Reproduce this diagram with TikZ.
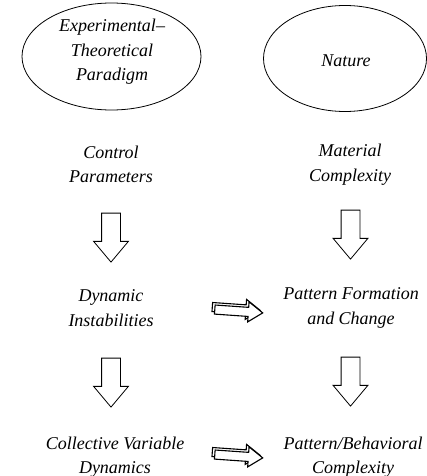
\documentclass[tikz,border=0pt]{standalone}
\usepackage{fontspec}
\setmainfont{Liberation Serif}
\usetikzlibrary{shapes.geometric,shapes.arrows}
\tikzstyle{flowboxes}=[%
	every path/.style = {%
		black,
		line width=0.8pt
	},%
	every node/.style = {%
		font=\fontsize{18}{24.5}\selectfont\itshape,
		align=center
	},%
	sourceOval/.style={%
		draw,
		ellipse,
		inner sep=0pt
	},%
	downArrow/.style={%
		draw,
		fill=white,
		single arrow,
		rotate=-90,
		minimum height=49pt,
		inner xsep=0pt,
		inner ysep=9pt,
		single arrow head extend=8pt,
		single arrow tip angle=80
	},%
	sideArrow/.style={%
		draw,
		fill=white,
		single arrow,
		rotate=-4,
		minimum height=48pt,
		inner xsep=0pt,
		inner ysep=4pt,
		single arrow head extend=5.5pt,
		single arrow tip angle=70,
		line width=1.1pt
	}
]

\begin{document}
\begin{tikzpicture}[
	x=1pt, y=-1pt,
	flowboxes
]
	\useasboundingbox (0,0) rectangle (426,476);

	\node[sourceOval, minimum width=179pt, minimum height=107pt] (paradigm) at (111.5,56.5) {};
	\node at (112,52) {Experimental--\\Theoretical\\Paradigm};
	\node[sourceOval, minimum width=163pt, minimum height=106pt] (nature) at (345,58.5) {};
	\node (natureText) at (346,61) {Nature};

	\node (control) at (111,164.5) {Control\\Parameters};
	\node (material) at (350,164.5) {Material\\Complexity};
	\node (dynamic) at (111,308) {Dynamic\\Instabilities};
	\node (pattern) at (351,308) {Pattern Formation\\and Change};
	\node (collective) at (115,457) {Collective Variable\\Dynamics};
	\node (behavioral) at (353,457) {Pattern/Behavioral\\Complexity};

	\foreach \x/\y/\name in {111/232/ctrlDyn, 350.5/229/matPat, 111/377/dynCol, 350.5/376/patBeh} {
		\node[downArrow] (\name) at (\x,\y) {};
	}

	\foreach \y/\name in {311/dynPat, 456/colBeh} {
		\node[sideArrow, fill=none] at (233,\y-2.5) {};
		\node[sideArrow] (\name) at (235.5,\y) {};
	}
\end{tikzpicture}
\end{document}
